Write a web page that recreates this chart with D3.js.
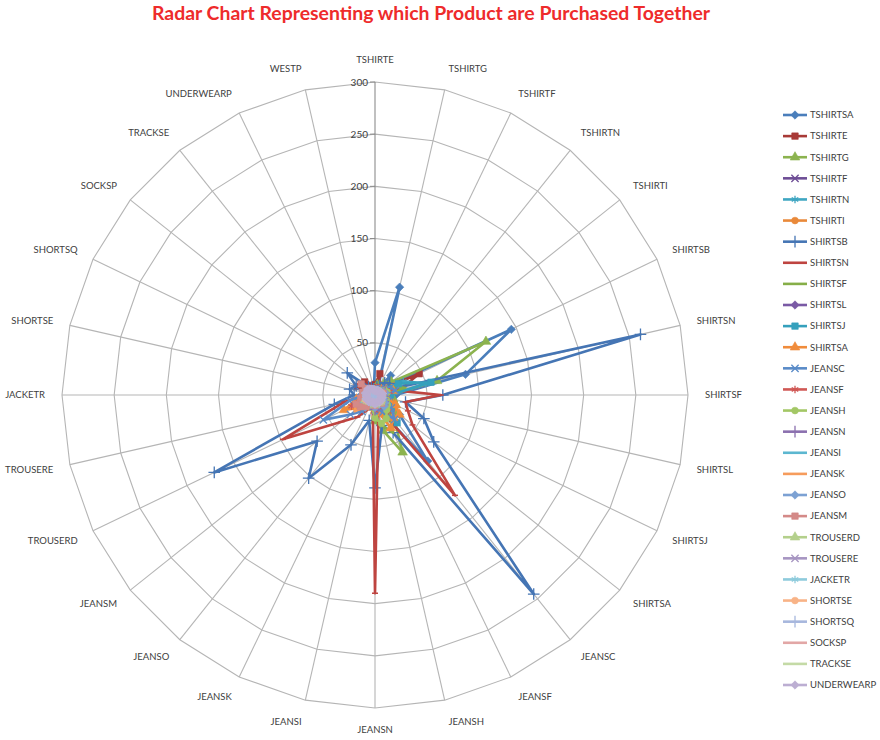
<!DOCTYPE html>
<html>
<head>
<meta charset="utf-8">
<script src="https://cdn.jsdelivr.net/npm/d3@7"></script>
<style>
  body { margin: 0; background: #fff; }
  text { font-family: Lato, "Liberation Sans", sans-serif; }
</style>
</head>
<body>
<svg id="chart" width="880" height="740"></svg>
<script>
// Spokes of the radar, clockwise from the top
const axisLabels = ["TSHIRTE","TSHIRTG","TSHIRTF","TSHIRTN","TSHIRTI","SHIRTSB","SHIRTSN","SHIRTSF",
  "SHIRTSL","SHIRTSJ","SHIRTSA","JEANSC","JEANSF","JEANSH","JEANSN","JEANSI","JEANSK","JEANSO",
  "JEANSM","TROUSERD","TROUSERE","JACKETR","SHORTSE","SHORTSQ","SOCKSP","TRACKSE","UNDERWEARP","WESTP"];

const tickValues = [0, 50, 100, 150, 200, 250, 300];

// Co-purchase counts per product, in spoke order
const TSHIRTSA  = [31,106,6,24,12,145,89,20,14,18,30,81,22,10,15,6,12,20,14,18,8,6,10,8,12,4,3,5];
const TSHIRTE   = [10,21,8,12,10,47,25,12,8,10,15,20,12,8,14,5,8,10,12,14,8,5,10,19,12,16,10,8];
const TSHIRTG   = [6,10,8,14,20,118,61,15,18,22,25,30,61,35,25,10,8,12,10,8,6,5,8,5,6,4,3,4];
const TSHIRTF   = [4,6,5,8,6,15,12,10,8,6,8,10,6,5,8,4,5,6,4,5,3,3,4,3,5,2,2,3];
const TSHIRTN   = [5,8,6,10,10,30,50,15,10,12,14,16,10,8,10,5,6,8,6,8,5,4,6,4,5,3,3,4];
const TSHIRTI   = [4,6,5,6,8,20,25,12,15,18,22,28,18,12,14,6,8,10,8,10,6,4,6,4,5,3,3,3];
const SHIRTSB   = [5,8,10,15,18,10,261,65,30,52,72,244,40,30,89,25,53,102,71,171,40,20,25,20,34,10,8,6];
const SHIRTSN   = [8,10,8,10,12,15,20,63,30,35,46,123,20,15,190,10,15,27,41,98,30,10,12,8,10,6,5,6];
const SHIRTSF   = [4,6,5,8,10,20,30,12,10,14,18,22,40,30,20,8,6,8,6,8,5,4,5,4,5,3,3,3];
const SHIRTSL   = [3,4,4,6,6,10,12,8,6,8,10,12,8,6,8,4,5,6,5,6,4,3,4,3,4,2,2,3];
const SHIRTSJ   = [4,5,5,8,8,25,55,15,12,15,20,34,18,10,12,6,6,8,6,8,5,4,5,4,5,3,3,4];
const SHIRTSA   = [4,5,5,6,8,12,18,10,12,22,30,28,35,18,15,8,10,15,20,33,18,8,10,6,5,4,3,4];
const JEANSC    = [5,6,5,8,8,15,20,12,10,14,20,30,18,14,20,8,12,20,30,55,25,10,14,8,10,5,4,5];
const JEANSF    = [4,5,5,6,6,10,14,8,8,10,14,20,12,10,15,6,8,12,18,25,14,8,10,6,6,4,3,4];
const JEANSH    = [4,5,4,6,6,10,12,8,8,12,15,18,25,28,22,12,10,12,10,12,8,5,6,5,4,3,3,4];
const JEANSN    = [3,4,3,5,5,8,10,7,6,8,10,12,10,10,14,8,8,9,8,9,6,4,5,4,4,3,2,3];
const JEANSI    = [3,3,3,4,4,7,9,6,6,8,12,14,10,8,10,7,7,8,7,8,5,4,4,3,3,2,2,3];
const JEANSK    = [3,4,3,4,5,7,9,7,6,8,10,12,9,8,10,8,10,14,25,20,12,6,6,4,4,3,2,3];
const JEANSO    = [3,4,3,5,5,8,10,8,7,9,12,14,10,9,12,8,10,15,14,16,10,6,8,6,6,4,3,3];
const JEANSM    = [3,4,3,4,4,6,8,6,5,6,8,10,8,6,10,8,10,14,18,20,14,10,12,10,17,8,6,5];
const TROUSERD  = [3,3,3,4,4,5,6,5,5,6,7,8,8,7,9,6,7,8,9,10,8,6,7,6,6,5,4,3];
const TROUSERE  = [2,3,3,3,3,5,6,5,4,5,6,7,6,6,7,5,6,7,8,9,7,6,6,5,5,4,3,3];
const JACKETR   = [2,3,3,3,3,5,6,5,4,5,6,8,7,6,7,5,6,7,8,8,7,6,6,5,5,4,3,3];
const SHORTSE   = [3,3,3,4,4,6,7,6,5,6,7,8,7,7,8,6,7,8,9,10,8,7,8,7,7,5,4,4];
const SHORTSQ   = [3,3,3,4,4,5,6,5,5,6,6,7,6,6,7,6,6,7,8,8,7,7,8,7,7,5,4,4];
const SOCKSP    = [4,4,4,5,5,6,7,6,6,6,7,8,7,7,8,7,7,8,9,9,8,8,9,8,10,7,6,5];
const TRACKSE   = [5,5,5,6,6,7,8,7,7,8,9,10,10,9,10,8,8,9,10,10,9,9,10,9,9,8,7,6];
const UNDERWEARP= [4,4,4,5,5,6,7,6,6,7,7,8,7,7,9,7,7,8,9,9,8,8,9,8,9,7,6,5];

const seriesNames = ["TSHIRTSA","TSHIRTE","TSHIRTG","TSHIRTF","TSHIRTN","TSHIRTI","SHIRTSB","SHIRTSN",
  "SHIRTSF","SHIRTSL","SHIRTSJ","SHIRTSA","JEANSC","JEANSF","JEANSH","JEANSN","JEANSI","JEANSK",
  "JEANSO","JEANSM","TROUSERD","TROUSERE","JACKETR","SHORTSE","SHORTSQ","SOCKSP","TRACKSE","UNDERWEARP"];

const seriesValues = [TSHIRTSA,TSHIRTE,TSHIRTG,TSHIRTF,TSHIRTN,TSHIRTI,SHIRTSB,SHIRTSN,SHIRTSF,SHIRTSL,
  SHIRTSJ,SHIRTSA,JEANSC,JEANSF,JEANSH,JEANSN,JEANSI,JEANSK,JEANSO,JEANSM,TROUSERD,TROUSERE,JACKETR,
  SHORTSE,SHORTSQ,SOCKSP,TRACKSE,UNDERWEARP];

const seriesColors = [
  "#4A7EBB","#A83A37","#8CB34F","#6E4E96","#3FA6C2","#E9893A",
  "#4575B4","#BE4440","#86AE48","#7A5AA5","#35A0BC","#F08C3C",
  "#5A8BC8","#D05855","#A3C765","#8B70AF","#5CB7D0","#F69C5C",
  "#7CA1D3","#D48A88","#B4D08C","#A796C2","#8ECBDC","#F8B387",
  "#A7B7DD","#E2A7A6","#C4DAA6","#BCAED2"];

// Excel-style marker cycle
const markerCycle = ["diamond","square","triangle","times","asterisk","circle","plus","dash","none"];

const svg = d3.select("#chart");
const cx = 375, cy = 395;
const n = axisLabels.length;

const r = d3.scaleLinear().domain([0, 300]).range([0, 313]);
const angle = d3.scaleLinear().domain([0, n]).range([0, 2 * Math.PI]);
const px = (i, v) => r(v) * Math.sin(angle(i));
const py = (i, v) => -r(v) * Math.cos(angle(i));

// Title
svg.append("text")
  .attr("x", 431).attr("y", 20)
  .attr("text-anchor", "middle")
  .attr("font-size", 18).attr("font-weight", "bold")
  .attr("fill", "#EE2B2B")
  .attr("textLength", 558).attr("lengthAdjust", "spacingAndGlyphs")
  .text("Radar Chart Representing which Product are Purchased Together");

const g = svg.append("g").attr("transform", `translate(${cx},${cy})`);

// Grid rings (polygons)
const ring = d3.lineRadial().angle((d, i) => angle(i)).radius(d => r(d)).curve(d3.curveLinearClosed);
g.append("g").selectAll("path")
  .data(tickValues.filter(t => t > 0))
  .join("path")
  .attr("d", t => ring(d3.range(n).map(() => t)))
  .attr("fill", "none").attr("stroke", "#B5B5B5").attr("stroke-width", 1.1);

// Spokes
g.append("g").selectAll("line")
  .data(d3.range(n))
  .join("line")
  .attr("x1", 0).attr("y1", 0)
  .attr("x2", i => px(i, 300)).attr("y2", i => py(i, 300))
  .attr("stroke", i => i === 0 ? "#8C8C8C" : "#B5B5B5").attr("stroke-width", 1.1);

// Value axis ticks and labels along the top spoke
const ticks = g.append("g");
ticks.selectAll("line")
  .data(tickValues)
  .join("line")
  .attr("x1", -5).attr("x2", 0)
  .attr("y1", t => -r(t)).attr("y2", t => -r(t))
  .attr("stroke", "#8C8C8C");
ticks.selectAll("text")
  .data(tickValues)
  .join("text")
  .attr("x", -7).attr("y", t => -r(t))
  .attr("dy", "0.35em")
  .attr("text-anchor", "end")
  .attr("font-size", 10).attr("fill", "#404040")
  .text(t => t);

// Spoke labels
g.append("g").selectAll("text")
  .data(axisLabels)
  .join("text")
  .attr("x", (d, i) => 330 * Math.sin(angle(i)))
  .attr("y", (d, i) => -330 * Math.cos(angle(i)) - 5 * Math.cos(angle(i)))
  .attr("dy", "0.35em")
  .attr("text-anchor", (d, i) => {
    const s = Math.sin(angle(i));
    return Math.abs(s) < 0.05 ? "middle" : (s > 0 ? "start" : "end");
  })
  .attr("font-size", 9.5).attr("fill", "#404040")
  .text(d => d);

// Marker drawing helper
function drawMarker(sel, type, color) {
  const fillTypes = { square: [d3.symbolSquare, 42], triangle: [d3.symbolTriangle, 40], circle: [d3.symbolCircle, 36] };
  const strokeTypes = { times: [d3.symbolTimes, 36], asterisk: [d3.symbolAsterisk, 40], plus: [d3.symbolPlus, 46] };
  if (type === "diamond") {
    sel.append("path").attr("d", "M0,-4.2L4.2,0L0,4.2L-4.2,0Z")
      .attr("fill", color).attr("stroke", color).attr("stroke-width", 0.6);
  } else if (fillTypes[type]) {
    sel.append("path").attr("d", d3.symbol(fillTypes[type][0], fillTypes[type][1]))
      .attr("fill", color).attr("stroke", color).attr("stroke-width", 0.6);
  } else if (strokeTypes[type]) {
    sel.append("path").attr("d", d3.symbol(strokeTypes[type][0], strokeTypes[type][1]))
      .attr("fill", "none").attr("stroke", color).attr("stroke-width", 1.3);
  } else if (type === "dash") {
    sel.append("line").attr("x1", -3).attr("x2", 3).attr("y1", 0).attr("y2", 0)
      .attr("stroke", color).attr("stroke-width", 1.5);
  }
}

// Series lines and markers
const radial = d3.lineRadial().angle((d, i) => angle(i)).radius(d => r(d)).curve(d3.curveLinearClosed);
const seriesG = g.append("g");
seriesValues.forEach((vals, s) => {
  const color = seriesColors[s];
  const mtype = markerCycle[s % markerCycle.length];
  const sg = seriesG.append("g");
  sg.append("path").attr("d", radial(vals))
    .attr("fill", "none").attr("stroke", color)
    .attr("stroke-width", 2.6).attr("stroke-linejoin", "round");
  sg.selectAll("g.m")
    .data(vals)
    .join("g").attr("class", "m")
    .attr("transform", (v, i) => `translate(${px(i, v)},${py(i, v)})`)
    .each(function() { drawMarker(d3.select(this), mtype, color); });
});

// Legend
const legend = svg.append("g");
const ly = d3.scaleLinear().domain([0, seriesNames.length - 1]).range([115, 685]);
seriesNames.forEach((name, s) => {
  const color = seriesColors[s];
  const row = legend.append("g").attr("transform", `translate(0,${ly(s)})`);
  row.append("line").attr("x1", 783).attr("x2", 807).attr("y1", 0).attr("y2", 0)
    .attr("stroke", color).attr("stroke-width", 2.6);
  const m = row.append("g").attr("transform", "translate(795,0)");
  drawMarker(m, markerCycle[s % markerCycle.length], color);
  row.append("text").attr("x", 810).attr("y", 0).attr("dy", "0.35em")
    .attr("font-size", 9.5).attr("fill", "#404040").text(name);
});
</script>
</body>
</html>
